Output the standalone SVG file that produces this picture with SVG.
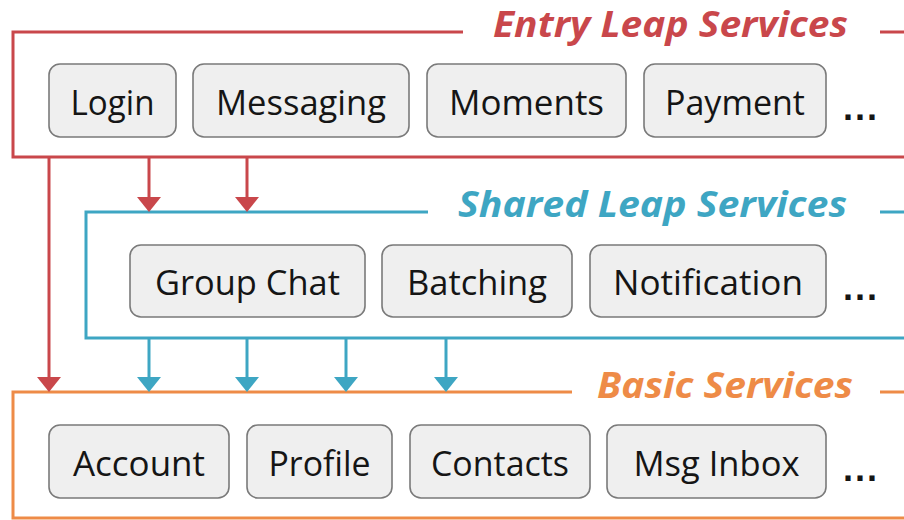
<svg xmlns="http://www.w3.org/2000/svg" width="904" height="520" viewBox="0 0 904 520">
  <defs>
    <style>
      .frame { fill: none; stroke-width: 3; }
      .entry { stroke: #c9474b; }
      .shared { stroke: #3ea6c3; }
      .basic { stroke: #ee8b47; }
      .box { fill: #efefef; stroke: #7a7a7a; stroke-width: 1.6; }
      .lbl { font-family: "Open Sans", "Liberation Sans", sans-serif; font-size: 35px; fill: #151515; text-anchor: middle; }
      .title { font-family: "Open Sans", "Liberation Sans", sans-serif; font-size: 35px; font-weight: bold; font-style: italic; }
      .dots { font-family: "Liberation Sans", sans-serif; font-size: 36px; font-weight: bold; fill: #151515; }
      .wire { stroke-width: 3; fill: none; }
    </style>
  </defs>

  <rect width="904" height="520" fill="#ffffff"/>

  <!-- Entry Leap Services layer -->
  <g id="entry-layer">
    <path class="frame entry" d="M463,32 H13 V157 H904 M880,32 H904"/>
    <text class="title" x="493" y="37" fill="#c9474b" textLength="355" lengthAdjust="spacingAndGlyphs">Entry Leap Services</text>
  </g>
  <g id="login"><rect class="box" x="49" y="64" width="127" height="73" rx="11"/><text class="lbl" x="112.5" y="115" textLength="84" lengthAdjust="spacingAndGlyphs">Login</text></g>
  <g id="messaging"><rect class="box" x="193" y="64" width="216" height="73" rx="11"/><text class="lbl" x="301" y="115" textLength="170" lengthAdjust="spacingAndGlyphs">Messaging</text></g>
  <g id="moments"><rect class="box" x="427" y="64" width="199" height="73" rx="11"/><text class="lbl" x="526.5" y="115" textLength="155" lengthAdjust="spacingAndGlyphs">Moments</text></g>
  <g id="payment"><rect class="box" x="644" y="64" width="182" height="73" rx="11"/><text class="lbl" x="735" y="115" textLength="140" lengthAdjust="spacingAndGlyphs">Payment</text></g>
  <text class="dots" x="843" y="120" textLength="34" lengthAdjust="spacing">...</text>

  <!-- Shared Leap Services layer -->
  <g id="shared-layer">
    <path class="frame shared" d="M428,212 H86 V338 H904 M880,212 H904"/>
    <text class="title" x="458" y="217" fill="#3ea6c3" textLength="389" lengthAdjust="spacingAndGlyphs">Shared Leap Services</text>
  </g>
  <g id="group-chat"><rect class="box" x="130" y="245" width="235" height="72" rx="11"/><text class="lbl" x="247.5" y="295" textLength="185" lengthAdjust="spacingAndGlyphs">Group Chat</text></g>
  <g id="batching"><rect class="box" x="382" y="245" width="190" height="72" rx="11"/><text class="lbl" x="477" y="295" textLength="140" lengthAdjust="spacingAndGlyphs">Batching</text></g>
  <g id="notification"><rect class="box" x="590" y="245" width="236" height="72" rx="11"/><text class="lbl" x="708" y="295" textLength="190" lengthAdjust="spacingAndGlyphs">Notification</text></g>
  <text class="dots" x="843" y="300" textLength="34" lengthAdjust="spacing">...</text>

  <!-- Basic Services layer -->
  <g id="basic-layer">
    <path class="frame basic" d="M572,392 H13 V518 H904 M880,392 H904"/>
    <text class="title" x="597" y="398" fill="#ee8b47" textLength="256" lengthAdjust="spacingAndGlyphs">Basic Services</text>
  </g>
  <g id="account"><rect class="box" x="49" y="425" width="180" height="73" rx="11"/><text class="lbl" x="139" y="476" textLength="132" lengthAdjust="spacingAndGlyphs">Account</text></g>
  <g id="profile"><rect class="box" x="247" y="425" width="145" height="73" rx="11"/><text class="lbl" x="319.5" y="476" textLength="102" lengthAdjust="spacingAndGlyphs">Profile</text></g>
  <g id="contacts"><rect class="box" x="410" y="425" width="180" height="73" rx="11"/><text class="lbl" x="500" y="476" textLength="138" lengthAdjust="spacingAndGlyphs">Contacts</text></g>
  <g id="msg-inbox"><rect class="box" x="607" y="425" width="219" height="73" rx="11"/><text class="lbl" x="716.5" y="476" textLength="166" lengthAdjust="spacingAndGlyphs">Msg Inbox</text></g>
  <text class="dots" x="843" y="481" textLength="34" lengthAdjust="spacing">...</text>

  <!-- dependency arrows between layers -->
  <g id="connectors">
    <g stroke="#c9474b" class="wire">
      <line x1="49" y1="158" x2="49" y2="378"/>
      <line x1="149" y1="158" x2="149" y2="198"/>
      <line x1="247" y1="158" x2="247" y2="198"/>
    </g>
    <g fill="#c9474b">
      <path d="M37,377 H61 L49,392 Z"/>
      <path d="M137,197 H161 L149,212 Z"/>
      <path d="M235,197 H259 L247,212 Z"/>
    </g>
    <g stroke="#3ea6c3" class="wire">
      <line x1="149" y1="339" x2="149" y2="378"/>
      <line x1="247" y1="339" x2="247" y2="378"/>
      <line x1="346" y1="339" x2="346" y2="378"/>
      <line x1="446" y1="339" x2="446" y2="378"/>
    </g>
    <g fill="#3ea6c3">
      <path d="M137,377 H161 L149,392 Z"/>
      <path d="M235,377 H259 L247,392 Z"/>
      <path d="M334,377 H358 L346,392 Z"/>
      <path d="M434,377 H458 L446,392 Z"/>
    </g>
  </g>
</svg>
